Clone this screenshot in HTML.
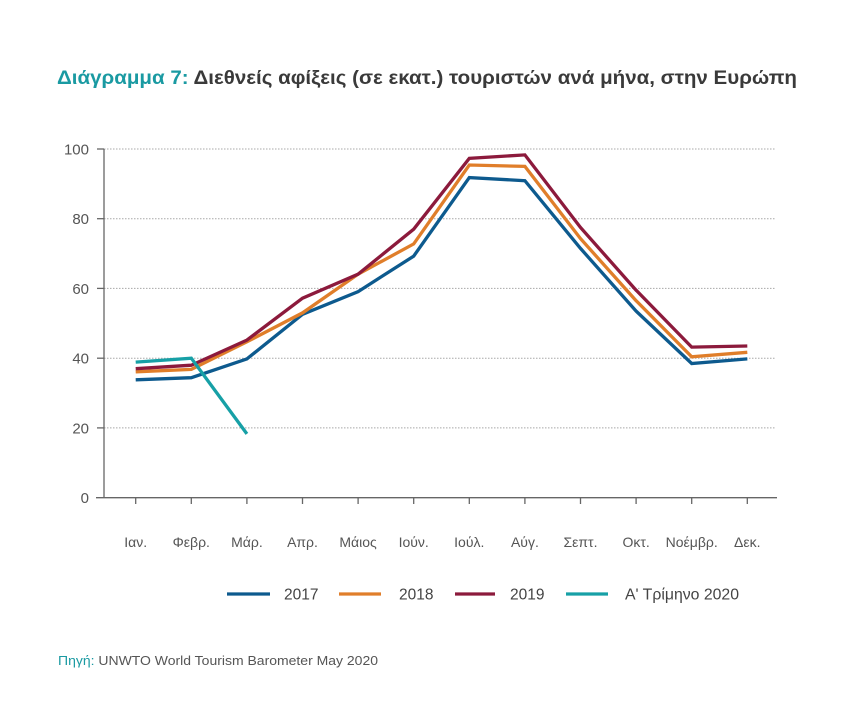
<!DOCTYPE html>
<html><head><meta charset="utf-8"><style>
html,body{margin:0;padding:0;background:#fff;}
svg{display:block;}
text{font-family:"Liberation Sans",sans-serif;}
</style></head><body>
<svg width="866" height="727" viewBox="0 0 866 727" xmlns="http://www.w3.org/2000/svg">
<rect width="866" height="727" fill="#fff"/>
<text x="57" y="84" font-size="19.5" font-weight="bold" fill="#3a3a3a" textLength="740" lengthAdjust="spacingAndGlyphs"><tspan fill="#1a9aa2">Διάγραμμα 7:</tspan> Διεθνείς αφίξεις (σε εκατ.) τουριστών ανά μήνα, στην Ευρώπη</text>

<g stroke="#a8a8a8" stroke-width="1" stroke-dasharray="1.5,1.5">
<line x1="104" y1="149" x2="776" y2="149"/>
<line x1="104" y1="218.7" x2="776" y2="218.7"/>
<line x1="104" y1="288.4" x2="776" y2="288.4"/>
<line x1="104" y1="358.2" x2="776" y2="358.2"/>
<line x1="104" y1="427.9" x2="776" y2="427.9"/>
</g>
<g stroke="#666" stroke-width="1.3" fill="none">
<line x1="104" y1="149" x2="104" y2="497.7"/>
<line x1="96" y1="497.7" x2="777" y2="497.7"/>
<line x1="97" y1="149" x2="104" y2="149"/>
<line x1="97" y1="218.7" x2="104" y2="218.7"/>
<line x1="97" y1="288.4" x2="104" y2="288.4"/>
<line x1="97" y1="358.2" x2="104" y2="358.2"/>
<line x1="97" y1="427.9" x2="104" y2="427.9"/>
<line x1="135.7" y1="497.7" x2="135.7" y2="504"/>
<line x1="191.3" y1="497.7" x2="191.3" y2="504"/>
<line x1="246.9" y1="497.7" x2="246.9" y2="504"/>
<line x1="302.5" y1="497.7" x2="302.5" y2="504"/>
<line x1="358.1" y1="497.7" x2="358.1" y2="504"/>
<line x1="413.7" y1="497.7" x2="413.7" y2="504"/>
<line x1="469.3" y1="497.7" x2="469.3" y2="504"/>
<line x1="524.9" y1="497.7" x2="524.9" y2="504"/>
<line x1="580.5" y1="497.7" x2="580.5" y2="504"/>
<line x1="636.1" y1="497.7" x2="636.1" y2="504"/>
<line x1="691.7" y1="497.7" x2="691.7" y2="504"/>
<line x1="747.3" y1="497.7" x2="747.3" y2="504"/>
</g>
<g font-size="15" fill="#555" text-anchor="end">
<text x="89" y="154.5">100</text>
<text x="89" y="224.2">80</text>
<text x="89" y="293.9">60</text>
<text x="89" y="363.7">40</text>
<text x="89" y="433.4">20</text>
<text x="89" y="503.2">0</text>
</g>
<g font-size="14" fill="#555" text-anchor="middle">
<text x="135.7" y="547">Ιαν.</text>
<text x="191.3" y="547">Φεβρ.</text>
<text x="246.9" y="547">Μάρ.</text>
<text x="302.5" y="547">Απρ.</text>
<text x="358.1" y="547">Μάιος</text>
<text x="413.7" y="547">Ιούν.</text>
<text x="469.3" y="547">Ιούλ.</text>
<text x="524.9" y="547">Αύγ.</text>
<text x="580.5" y="547">Σεπτ.</text>
<text x="636.1" y="547">Οκτ.</text>
<text x="691.7" y="547">Νοέμβρ.</text>
<text x="747.3" y="547">Δεκ.</text>
</g>
<g fill="none" stroke-width="3.3" stroke-linejoin="miter">
<polyline stroke="#0d5a8e" points="135.7,379.8 191.3,377.7 246.9,358.9 302.5,314.3 358.1,291.6 413.7,256.1 469.3,177.6 524.9,180.7 580.5,248.4 636.1,311.1 691.7,363.5 747.3,358.9"/>
<polyline stroke="#e07e2a" points="135.7,371.8 191.3,369.4 246.9,341.8 302.5,312.9 358.1,274.2 413.7,243.9 469.3,165.0 524.9,166.4 580.5,238.6 636.1,300.7 691.7,356.8 747.3,352.3"/>
<polyline stroke="#8c1a3c" points="135.7,368.7 191.3,365.2 246.9,340.1 302.5,298.2 358.1,274.2 413.7,229.2 469.3,158.4 524.9,154.9 580.5,227.5 636.1,290.2 691.7,347.1 747.3,346.0"/>
<polyline stroke="#17a0a6" points="135.7,362.1 191.3,358.2 246.9,433.9"/>
</g>
<g stroke-width="3.3">
<line x1="227" y1="594" x2="270" y2="594" stroke="#0d5a8e"/>
<line x1="339" y1="594" x2="381" y2="594" stroke="#e07e2a"/>
<line x1="455" y1="594" x2="495" y2="594" stroke="#8c1a3c"/>
<line x1="566" y1="594" x2="608" y2="594" stroke="#17a0a6"/>
</g>
<g font-size="15.5" fill="#444">
<text x="284" y="599.5">2017</text>
<text x="399" y="599.5">2018</text>
<text x="510" y="599.5">2019</text>
<text x="625" y="599.5" textLength="114" lengthAdjust="spacingAndGlyphs">Α' Τρίμηνο 2020</text>
</g>
<text x="58" y="665" font-size="13" fill="#555" textLength="320" lengthAdjust="spacingAndGlyphs"><tspan fill="#1a9aa2">Πηγή:</tspan> UNWTO World Tourism Barometer May 2020</text>
</svg>
</body></html>
